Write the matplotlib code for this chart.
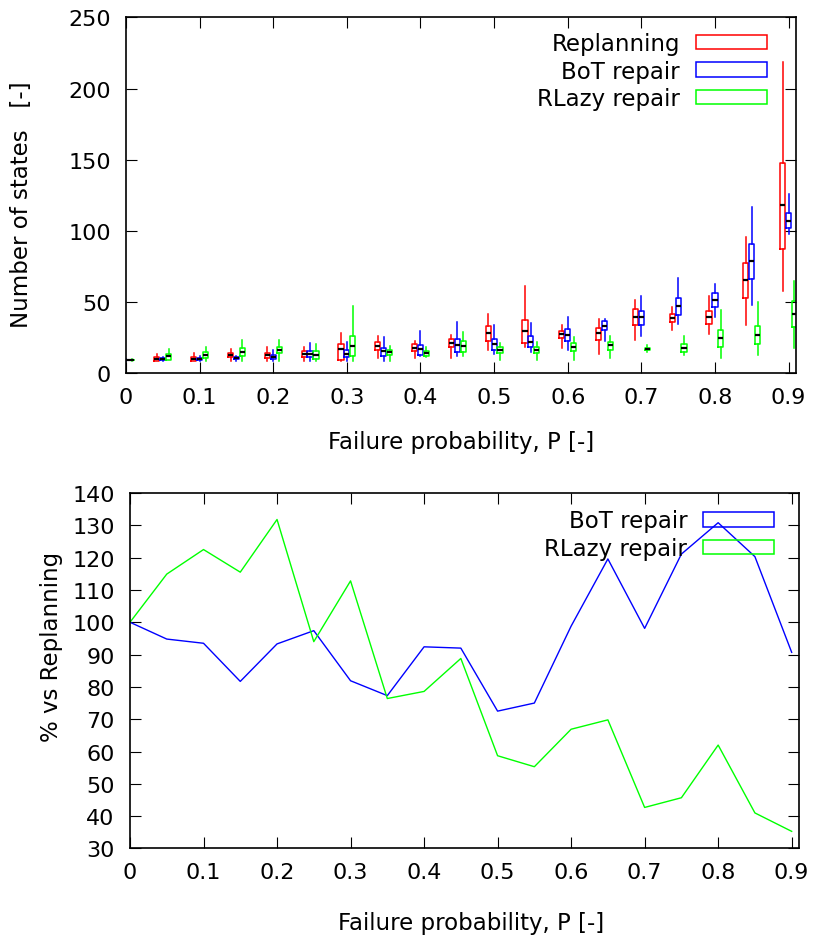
import numpy as np
import matplotlib
matplotlib.use('Agg')
import matplotlib.pyplot as plt
from matplotlib.patches import Patch

# failure probability of each experiment group
probs = [0, 0.05, 0.1, 0.15, 0.2, 0.25, 0.3, 0.35, 0.4, 0.45,
         0.5, 0.55, 0.6, 0.65, 0.7, 0.75, 0.8, 0.85, 0.9]

# number of states: (min, q1, median, q3, max) per group
replanning_stats = [
    (8.5, 8.8, 9.0, 9.2, 9.5),
    (8.5, 8.7, 9.8, 11.5, 13.0),
    (8.5, 8.7, 10.1, 11.5, 14.1),
    (8.6, 11.0, 12.6, 14.3, 16.8),
    (8.6, 10.3, 12.4, 14.0, 18.0),
    (8.6, 11.5, 13.3, 15.2, 18.0),
    (8.6, 9.1, 16.6, 20.1, 28.0),
    (10.5, 16.1, 19.2, 21.5, 25.9),
    (10.3, 15.2, 17.8, 20.1, 22.4),
    (10.5, 18.0, 21.3, 23.8, 26.9),
    (16.4, 22.2, 27.8, 33.2, 41.8),
    (18.5, 21.0, 29.2, 37.4, 61.0),
    (17.3, 24.3, 27.1, 29.7, 33.9),
    (13.3, 23.4, 27.8, 31.6, 37.9),
    (23.4, 33.9, 39.5, 44.9, 51.2),
    (30.4, 35.5, 38.6, 41.4, 46.1),
    (27.3, 34.4, 39.3, 43.7, 54.0),
    (33.7, 52.8, 65.2, 77.4, 95.8),
    (57.3, 87.4, 118.0, 147.7, 218.6),
]
bot_stats = [
    (8.5, 8.8, 9.0, 9.2, 9.5),
    (8.6, 8.9, 9.6, 10.5, 11.2),
    (8.6, 8.9, 9.6, 10.5, 11.7),
    (8.6, 9.6, 10.3, 11.2, 11.9),
    (8.6, 9.8, 11.2, 12.9, 16.1),
    (8.6, 11.0, 13.3, 15.2, 20.8),
    (8.6, 11.5, 13.6, 16.1, 22.0),
    (8.6, 11.7, 15.2, 17.3, 25.0),
    (11.7, 12.9, 16.6, 19.9, 29.2),
    (12.2, 15.0, 19.4, 23.6, 36.0),
    (13.6, 16.4, 20.1, 23.6, 33.9),
    (14.5, 18.0, 22.0, 25.7, 35.1),
    (16.4, 22.2, 26.9, 30.9, 39.3),
    (22.7, 30.4, 33.2, 36.2, 37.9),
    (25.7, 33.9, 39.0, 43.5, 54.2),
    (34.4, 40.7, 46.8, 52.6, 67.1),
    (39.0, 46.1, 51.4, 56.3, 62.9),
    (47.7, 66.4, 78.5, 90.5, 116.9),
    (97.5, 101.7, 106.8, 112.2, 125.5),
]
rlazy_stats = [
    (8.5, 8.8, 9.0, 9.2, 9.5),
    (8.9, 9.3, 11.7, 13.3, 16.8),
    (8.6, 10.6, 12.5, 14.8, 18.3),
    (8.6, 11.7, 15.0, 17.3, 23.1),
    (8.6, 14.0, 16.4, 18.5, 23.1),
    (8.6, 9.8, 12.9, 15.2, 20.1),
    (8.6, 11.7, 18.7, 25.7, 46.8),
    (8.6, 12.4, 15.0, 16.1, 18.7),
    (11.0, 12.2, 14.0, 15.7, 18.5),
    (11.7, 15.0, 18.9, 22.4, 28.5),
    (9.3, 13.8, 16.4, 18.5, 21.0),
    (9.3, 13.8, 16.1, 18.5, 22.0),
    (9.3, 15.2, 18.2, 20.8, 25.0),
    (10.5, 16.4, 19.4, 22.0, 25.7),
    (14.5, 15.9, 16.8, 17.8, 19.9),
    (12.6, 15.0, 17.5, 20.3, 25.7),
    (10.5, 18.5, 24.3, 30.2, 44.2),
    (12.6, 20.6, 26.9, 33.2, 49.6),
    (17.3, 32.0, 41.6, 50.7, 64.7),
]

# states relative to replanning [%]
bot_pct = [100, 94.8, 93.5, 81.7, 93.3, 97.4, 81.9, 77.3, 92.4, 92.0,
           72.5, 75.0, 98.8, 119.6, 98.1, 121.1, 130.8, 120.3, 90.7]
rlazy_pct = [100, 114.9, 122.5, 115.5, 131.8, 94.0, 112.8, 76.4, 78.6, 88.8,
             58.7, 55.3, 66.9, 69.8, 42.7, 45.7, 62.0, 41.0, 35.3]

xtick_vals = [0, 0.1, 0.2, 0.3, 0.4, 0.5, 0.6, 0.7, 0.8, 0.9]
xtick_labels = ['0', '0.1', '0.2', '0.3', '0.4', '0.5', '0.6', '0.7', '0.8', '0.9']

RED, BLUE, GREEN = '#ff0000', '#0000ff', '#00ff00'
LABEL_FS = 16.5

plt.rcParams['font.family'] = ['DejaVu Sans']
plt.rcParams['font.size'] = 16


def box_stats(rows):
    return [dict(whislo=r[0], q1=r[1], med=r[2], q3=r[3], whishi=r[4]) for r in rows]


def style_axes(ax):
    ax.tick_params(direction='in', top=True, right=True, length=8, width=0.8,
                   labelsize=16)
    ax.tick_params(axis='x', pad=10)
    ax.tick_params(axis='y', pad=11)
    for s in ax.spines.values():
        s.set_linewidth(1.2)


fig = plt.figure(figsize=(8.15, 9.37), dpi=100)
ax1 = fig.add_axes([0.1546, 0.6009, 0.822, 0.3794])
ax2 = fig.add_axes([0.1595, 0.0934, 0.8209, 0.3794])

# top: candlesticks
x = np.array(probs)
for stats, color, off in [(replanning_stats, RED, -0.008),
                          (bot_stats, BLUE, 0.0),
                          (rlazy_stats, GREEN, 0.008)]:
    ax1.bxp(box_stats(stats), positions=x + off, widths=0.007,
            showfliers=False, showcaps=False, manage_ticks=False,
            boxprops=dict(color=color, lw=1.1),
            whiskerprops=dict(color=color, lw=1.1),
            medianprops=dict(color='k', lw=1.6))

ax1.set_xlim(0, 0.91)
ax1.set_ylim(0, 250)
ax1.set_xticks(xtick_vals)
ax1.set_xticklabels(xtick_labels)
ax1.set_yticks([0, 50, 100, 150, 200, 250])
style_axes(ax1)
ax1.set_xlabel('Failure probability, P [-]', fontsize=LABEL_FS)
ax1.set_ylabel('Number of states   [-]', fontsize=LABEL_FS)
ax1.xaxis.set_label_coords(0.5, -0.160)
ax1.yaxis.set_label_coords(-0.139, 0.475)

handles = [Patch(facecolor='none', edgecolor=c, lw=1.1) for c in (RED, BLUE, GREEN)]
ax1.legend(handles, ['Replanning', 'BoT repair', 'RLazy repair'],
           loc='upper right', bbox_to_anchor=(0.957, 0.959), frameon=False,
           fontsize=LABEL_FS, markerfirst=False, handlelength=3.1,
           handleheight=0.6, handletextpad=0.7, labelspacing=0.2,
           borderpad=0, borderaxespad=0)

# bottom: relative to replanning
ax2.plot(probs, bot_pct, color=BLUE, lw=1.0, label='BoT repair')
ax2.plot(probs, rlazy_pct, color=GREEN, lw=1.0, label='RLazy repair')
ax2.set_xlim(0, 0.91)
ax2.set_ylim(30, 140)
ax2.set_xticks(xtick_vals)
ax2.set_xticklabels(xtick_labels)
ax2.set_yticks(range(30, 141, 10))
style_axes(ax2)
ax2.set_xlabel('Failure probability, P [-]', fontsize=LABEL_FS)
ax2.set_ylabel('% vs Replanning', fontsize=LABEL_FS)
ax2.xaxis.set_label_coords(0.51, -0.176)
ax2.yaxis.set_label_coords(-0.100, 0.57)

handles2 = [Patch(facecolor='none', edgecolor=c, lw=1.1) for c in (BLUE, GREEN)]
ax2.legend(handles2, ['BoT repair', 'RLazy repair'],
           loc='upper right', bbox_to_anchor=(0.963, 0.954), frameon=False,
           fontsize=LABEL_FS, markerfirst=False, handlelength=3.1,
           handleheight=0.6, handletextpad=0.7, labelspacing=0.2,
           borderpad=0, borderaxespad=0)

fig.savefig('out.png', dpi=100)
